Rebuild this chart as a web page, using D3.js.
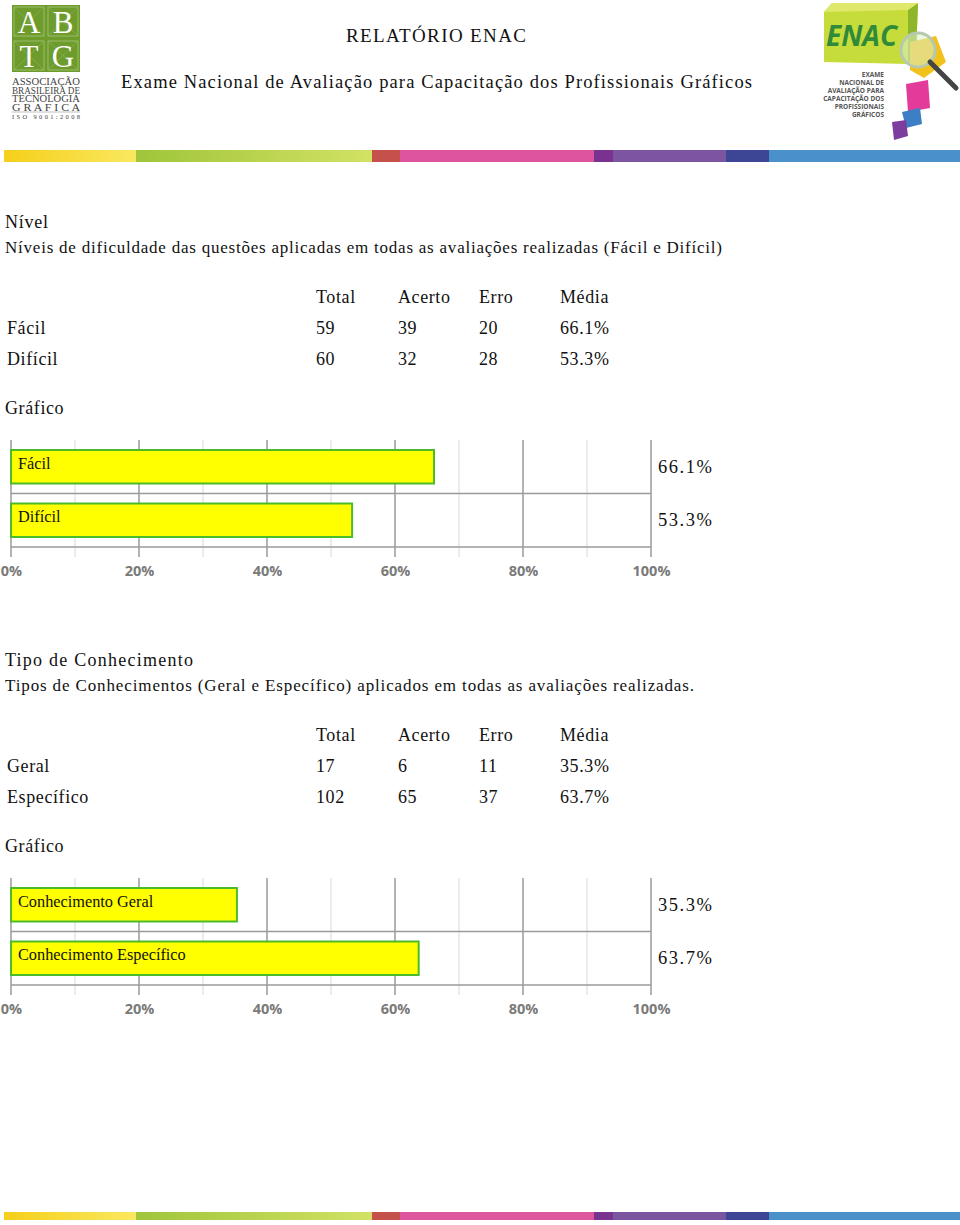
<!DOCTYPE html>
<html>
<head>
<meta charset="utf-8">
<script src="https://cdn.jsdelivr.net/npm/d3@7"></script>
<style>
body { margin: 0; background: #fff; }
svg { display: block; }
</style>
</head>
<body>
<div id="page"></div>
<script>
// section 1
const nivelCats = ['Fácil', 'Difícil'];
const nivelTotal = [59, 60];
const nivelAcerto = [39, 32];
const nivelErro = [20, 28];
const nivelMedia = [66.1, 53.3];

// section 2
const tipoCats = ['Geral', 'Específico'];
const tipoBarLabels = ['Conhecimento Geral', 'Conhecimento Específico'];
const tipoTotal = [17, 102];
const tipoAcerto = [6, 65];
const tipoErro = [11, 37];
const tipoMedia = [35.3, 63.7];

const tableHeaders = ['Total', 'Acerto', 'Erro', 'Média'];
const tickValues = [0, 20, 40, 60, 80, 100];
const minorTicks = [10, 30, 50, 70, 90];

const serif = '"Liberation Serif", "Times New Roman", serif';
const sans = '"Open Sans", "DejaVu Sans", sans-serif';

const svg = d3.select('#page').append('svg')
	.attr('width', 960)
	.attr('height', 1225);

const defs = svg.append('defs');
function grad(id, c1, c2) {
	const g = defs.append('linearGradient').attr('id', id);
	g.append('stop').attr('offset', '0%').attr('stop-color', c1);
	g.append('stop').attr('offset', '100%').attr('stop-color', c2);
	return 'url(#' + id + ')';
}
const yellowGrad = grad('gy', '#f6cf1a', '#f9e860');
const greenGrad = grad('gg', '#9fc53a', '#d2e264');

// decorative stripe: [from, to, fill]
const stripe = [
	[4, 136, yellowGrad], [136, 372, greenGrad], [372, 400, '#c5514b'],
	[400, 594, '#df559d'], [594, 613, '#7a3291'], [613, 726, '#7b559f'],
	[726, 769, '#3d4595'], [769, 960, '#4b91c9']
];
function drawStripe(y, h) {
	svg.append('g').selectAll('rect').data(stripe).join('rect')
		.attr('x', d => d[0]).attr('width', d => d[1] - d[0])
		.attr('y', y).attr('height', h)
		.attr('fill', d => d[2]);
}
drawStripe(150, 12);
drawStripe(1212, 8);

// ABTG logo
const abtg = svg.append('g').attr('transform', 'translate(12,5)');
abtg.append('rect').attr('width', 68).attr('height', 67).attr('fill', '#6d9b2c');
[[0, 0, 'A'], [34, 0, 'B'], [0, 34, 'T'], [34, 34, 'G']].forEach(d => {
	abtg.append('rect').attr('x', d[0] + 2).attr('y', d[1] + 2).attr('width', 30).attr('height', 29)
		.attr('fill', 'none').attr('stroke', '#a9c67a').attr('stroke-width', 0.8);
	abtg.append('line').attr('x1', d[0] + 2).attr('y1', d[1] + 2).attr('x2', d[0] + 32).attr('y2', d[1] + 31)
		.attr('stroke', '#94b763').attr('stroke-width', 0.6);
	abtg.append('line').attr('x1', d[0] + 32).attr('y1', d[1] + 2).attr('x2', d[0] + 2).attr('y2', d[1] + 31)
		.attr('stroke', '#94b763').attr('stroke-width', 0.6);
	abtg.append('text').attr('x', d[0] + 17).attr('y', d[1] + 28)
		.attr('text-anchor', 'middle').attr('font-family', serif).attr('font-size', 31)
		.attr('fill', '#fff').text(d[2]);
});
const abtgLines = ['ASSOCIAÇÃO', 'BRASILEIRA DE', 'TECNOLOGIA', 'G R A F I C A'];
abtgLines.forEach((t, i) => {
	abtg.append('text').attr('x', 34).attr('y', 80 + i * 8.6)
		.attr('text-anchor', 'middle').attr('font-family', serif).attr('font-size', 9.5)
		.attr('textLength', 68).attr('lengthAdjust', 'spacingAndGlyphs')
		.attr('fill', '#444').text(t);
});
abtg.append('line').attr('x1', 0).attr('x2', 68).attr('y1', 107).attr('y2', 107)
	.attr('stroke', '#999').attr('stroke-width', 0.6);
abtg.append('text').attr('x', 34).attr('y', 114)
	.attr('text-anchor', 'middle').attr('font-family', serif).attr('font-size', 6.5)
	.attr('textLength', 68).attr('fill', '#444').text('ISO 9001:2008');

// ENAC logo (approximation)
const enac = svg.append('g').attr('transform', 'translate(818,0)');
enac.append('path').attr('d', 'M6,12 L14,3 L100,3 L98,55 L90,64 L6,62 Z').attr('fill', '#c6dc3b');
enac.append('path').attr('d', 'M90,10 L100,3 L98,55 L90,64 Z').attr('fill', '#8fb52a');
enac.append('path').attr('d', 'M6,12 L14,3 L100,3 L90,10 Z').attr('fill', '#dfe86a');
enac.append('text').attr('x', 8).attr('y', 46).attr('font-family', sans).attr('font-style', 'italic')
	.attr('font-weight', 'bold').attr('font-size', 28).attr('fill', '#2f8a3a').text('ENAC');
enac.append('path').attr('d', 'M92,42 L118,36 L128,62 L106,78 L92,70 Z').attr('fill', '#f2c21c');
enac.append('path').attr('d', 'M88,84 L110,80 L112,108 L90,112 Z').attr('fill', '#e23b9a');
enac.append('path').attr('d', 'M84,112 L102,108 L104,124 L88,128 Z').attr('fill', '#3c7fc4');
enac.append('path').attr('d', 'M74,122 L88,120 L90,136 L76,140 Z').attr('fill', '#7b3d9e');
enac.append('circle').attr('cx', 100).attr('cy', 50).attr('r', 17)
	.attr('fill', 'rgba(220,240,200,0.55)').attr('stroke', '#b6c9b0').attr('stroke-width', 3);
enac.append('line').attr('x1', 112).attr('y1', 62).attr('x2', 138).attr('y2', 88)
	.attr('stroke', '#444').attr('stroke-width', 5).attr('stroke-linecap', 'round');
['EXAME', 'NACIONAL DE', 'AVALIAÇÃO PARA', 'CAPACITAÇÃO DOS', 'PROFISSIONAIS', 'GRÁFICOS'].forEach((t, i) => {
	enac.append('text').attr('x', 66).attr('y', 77 + i * 8)
		.attr('text-anchor', 'end').attr('font-family', sans).attr('font-weight', 'bold')
		.attr('font-size', 6.5).attr('fill', '#555').text(t);
});

function text(x, y, t, size, len) {
	const el = svg.append('text').attr('x', x).attr('y', y)
		.attr('font-family', serif).attr('font-size', size)
		.attr('fill', '#111').text(t);
	if (len) el.attr('textLength', len).attr('lengthAdjust', 'spacing');
	else el.attr('letter-spacing', 0.6);
	return el;
}

// header texts
text(346, 42, 'RELATÓRIO ENAC', 19, 180);
text(121, 88, 'Exame Nacional de Avaliação para Capacitação dos Profissionais Gráficos', 18.5, 631);

const colX = [316, 398, 479, 560];

function section(top, title, titleLen, subtitle, subLen, cats, total, acerto, erro, media) {
	text(5, top + 6, title, 18, titleLen);
	text(5, top + 31, subtitle, 17, subLen);
	tableHeaders.forEach((h, i) => text(colX[i], top + 81, h, 18));
	cats.forEach((c, r) => {
		const y = top + 112 + r * 30.5;
		text(7, y, c, 18);
		[total[r], acerto[r], erro[r], d3.format('.1f')(media[r]) + '%']
			.forEach((v, i) => text(colX[i], y, v, 18));
	});
	text(5, top + 192, 'Gráfico', 18);
}

function barChart(top, labels, values) {
	const x = d3.scaleLinear().domain([0, 100]).range([11, 651]);
	const y = d3.scaleBand().domain(labels).range([top, top + 107]);
	const g = svg.append('g');

	g.selectAll('line.minor').data(minorTicks).join('line')
		.attr('x1', d => x(d)).attr('x2', d => x(d))
		.attr('y1', top).attr('y2', top + 117)
		.attr('stroke', '#d8d8d8').attr('stroke-width', 1);
	g.selectAll('line.major').data(tickValues).join('line')
		.attr('x1', d => x(d)).attr('x2', d => x(d))
		.attr('y1', top).attr('y2', top + 117)
		.attr('stroke', '#9a9a9a').attr('stroke-width', 1.5);
	g.selectAll('line.row').data(labels).join('line')
		.attr('x1', x(0)).attr('x2', x(100))
		.attr('y1', d => y(d) + y.bandwidth()).attr('y2', d => y(d) + y.bandwidth())
		.attr('stroke', '#9a9a9a').attr('stroke-width', 1.5);

	g.selectAll('rect.bar').data(labels).join('rect')
		.attr('x', x(0))
		.attr('y', d => y(d) + 10)
		.attr('width', (d, i) => x(values[i]) - x(0))
		.attr('height', y.bandwidth() - 20)
		.attr('fill', '#ffff00')
		.attr('stroke', '#4cbb2a').attr('stroke-width', 2);
	g.selectAll('text.lab').data(labels).join('text')
		.attr('x', 18).attr('y', d => y(d) + y.bandwidth() / 2 + 2)
		.attr('font-family', serif).attr('font-size', 16.3).attr('fill', '#111')
		.text(d => d);
	g.selectAll('text.val').data(labels).join('text')
		.attr('x', 658).attr('y', d => y(d) + y.bandwidth() / 2 + 6)
		.attr('font-family', serif).attr('font-size', 18.5).attr('fill', '#111')
		.attr('textLength', 54).attr('lengthAdjust', 'spacing')
		.text((d, i) => d3.format('.1f')(values[i]) + '%');

	const axis = d3.axisBottom(x).tickValues(tickValues).tickSize(0)
		.tickFormat(d => d + '%');
	const ax = g.append('g').attr('transform', `translate(0,${top + 123})`).call(axis);
	ax.select('.domain').remove();
	ax.selectAll('text')
		.attr('font-family', sans).attr('font-weight', 'bold')
		.attr('font-size', 14.5).attr('fill', '#7a7a7a');
}

section(222, 'Nível', 43,
	'Níveis de dificuldade das questões aplicadas em todas as avaliações realizadas (Fácil e Difícil)', 717,
	nivelCats, nivelTotal, nivelAcerto, nivelErro, nivelMedia);
barChart(440, nivelCats, nivelMedia);

section(660, 'Tipo de Conhecimento', 188,
	'Tipos de Conhecimentos (Geral e Específico) aplicados em todas as avaliações realizadas.', 689,
	tipoCats, tipoTotal, tipoAcerto, tipoErro, tipoMedia);
barChart(878, tipoBarLabels, tipoMedia);
</script>
</body>
</html>
